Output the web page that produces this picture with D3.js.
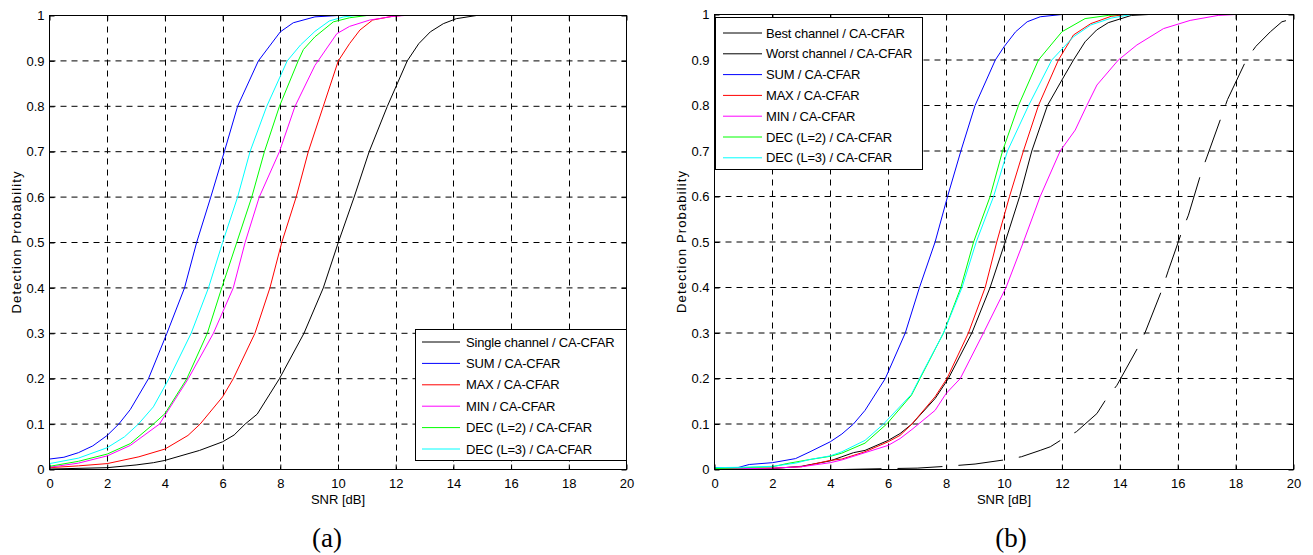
<!DOCTYPE html>
<html>
<head>
<meta charset="utf-8">
<script src="https://cdn.jsdelivr.net/npm/d3@7"></script>
<style>
  body { margin: 0; background: #fff; }
  svg { display: block; }
  text { font-family: "Liberation Sans", Arial, Helvetica, sans-serif; fill: #000; }
</style>
</head>
<body>
<svg id="chart" width="1313" height="555"></svg>
<script>
// ---- axis ticks ----
const snrTicks = [0, 2, 4, 6, 8, 10, 12, 14, 16, 18, 20];
const pdTicks = [0, 0.1, 0.2, 0.3, 0.4, 0.5, 0.6, 0.7, 0.8, 0.9, 1];

// ---- panel (a): [SNR dB, detection probability] ----
const singleA = [[0,0.001],[2,0.004],[3,0.01],[3.6,0.015],[4,0.02],[5.2,0.042],[6,0.061],[6.4,0.076],[6.78,0.1],[7.2,0.122],[7.97,0.2],[8.82,0.3],[9.49,0.4],[10.01,0.5],[10.56,0.6],[11.08,0.7],[11.71,0.8],[12.4,0.9],[12.8,0.938],[13.2,0.964],[13.65,0.982],[14.1,0.993],[14.8,1],[20,1]];
const sumA = [[0,0.023],[0.5,0.027],[1,0.037],[1.5,0.052],[2,0.075],[2.4,0.1],[2.8,0.132],[3.43,0.2],[4.07,0.3],[4.68,0.4],[5.1,0.5],[5.59,0.6],[6.06,0.7],[6.52,0.8],[7.24,0.9],[8,0.964],[8.45,0.984],[9.2,0.997],[10,1],[20,1]];
const maxA = [[0,0.004],[1,0.008],[2,0.013],[3.1,0.028],[4,0.045],[4.8,0.075],[5.22,0.1],[6,0.16],[6.37,0.2],[7.12,0.3],[7.64,0.4],[8.05,0.5],[8.55,0.6],[8.97,0.7],[9.49,0.8],[10.01,0.9],[10.4,0.938],[10.76,0.968],[11.2,0.99],[11.86,0.998],[12.2,1],[20,1]];
const minA = [[0,0.005],[1,0.014],[2,0.03],[2.8,0.053],[3.81,0.1],[4.81,0.2],[5.68,0.3],[6.37,0.4],[6.78,0.5],[7.27,0.6],[7.97,0.7],[8.51,0.8],[9.2,0.89],[9.96,0.96],[10.4,0.976],[11.1,0.99],[11.9,0.998],[12.3,1],[20,1]];
const dec2A = [[0,0.007],[1,0.018],[2,0.034],[2.8,0.057],[3.6,0.1],[4,0.123],[4.76,0.2],[5.47,0.3],[5.97,0.4],[6.49,0.5],[7.01,0.6],[7.45,0.7],[7.97,0.8],[8.62,0.9],[8.8,0.925],[9.2,0.953],[9.84,0.986],[10.4,0.995],[11,1],[20,1]];
const dec3A = [[0,0.013],[1,0.025],[2,0.048],[2.6,0.072],[3.08,0.1],[3.6,0.138],[4.14,0.2],[4.91,0.3],[5.51,0.4],[6,0.5],[6.52,0.6],[6.95,0.7],[7.53,0.8],[8.24,0.9],[8.7,0.935],[9.2,0.965],[9.7,0.988],[10.2,0.997],[10.6,1],[20,1]];

// ---- panel (b) ----
const bestB = [[0,0],[2,0.002],[3,0.007],[4,0.019],[4.4,0.028],[4.8,0.037],[5.2,0.042],[6,0.064],[6.41,0.079],[6.82,0.1],[7.62,0.156],[8.08,0.2],[8.89,0.3],[9.52,0.4],[10.04,0.5],[10.54,0.6],[10.96,0.7],[11.5,0.8],[12,0.856],[12.4,0.9],[12.8,0.94],[13.2,0.966],[13.6,0.982],[14,0.99],[14.4,0.998],[15,1],[20,1]];
const worstB = [[0,0],[4.4,0],[6,0.002],[7,0.003],[8,0.007],[9,0.012],[10,0.021],[10.6,0.028],[11.25,0.042],[11.6,0.05],[12,0.066],[12.5,0.083],[13.21,0.123],[13.55,0.157],[13.9,0.185],[14.65,0.271],[14.88,0.302],[15.45,0.394],[15.68,0.438],[16.14,0.522],[16.37,0.559],[16.81,0.652],[17.01,0.687],[17.53,0.779],[17.72,0.813],[18.39,0.903],[18.7,0.93],[19.2,0.962],[19.6,0.984],[20,0.991]];
const sumB = [[0,0.004],[0.8,0.004],[1.2,0.011],[2,0.015],[2.8,0.024],[3.3,0.039],[4,0.061],[4.4,0.078],[4.8,0.1],[5.2,0.13],[5.9,0.2],[6.59,0.3],[7.08,0.4],[7.62,0.5],[8.05,0.6],[8.51,0.7],[9,0.8],[9.7,0.9],[10,0.929],[10.4,0.962],[10.8,0.984],[11.25,0.995],[12,1],[20,1]];
const maxB = [[0,0.001],[2,0.003],[3,0.006],[4,0.02],[4.4,0.023],[5.2,0.039],[6,0.061],[6.41,0.075],[6.82,0.1],[7.62,0.16],[8.03,0.2],[8.77,0.3],[9.35,0.4],[9.75,0.5],[10.19,0.6],[10.67,0.7],[11.19,0.8],[11.88,0.9],[12.4,0.955],[13,0.98],[13.7,0.996],[14.2,1],[20,1]];
const minB = [[0,0.001],[2,0.003],[3,0.006],[4,0.015],[4.4,0.021],[5.2,0.037],[6,0.053],[6.41,0.068],[6.82,0.088],[7.05,0.1],[7.62,0.13],[8,0.167],[8.49,0.2],[9.29,0.3],[10.07,0.4],[10.67,0.5],[11.25,0.6],[11.94,0.7],[12.46,0.746],[12.86,0.8],[13.21,0.845],[13.95,0.9],[14.59,0.933],[15.51,0.969],[16.43,0.987],[17.4,0.998],[18,1],[20,1]];
const dec2B = [[0,0.002],[1,0.004],[2,0.006],[2.5,0.013],[3.3,0.022],[4,0.029],[4.4,0.036],[5.2,0.058],[5.95,0.1],[6.8,0.163],[7.1,0.2],[7.91,0.3],[8.51,0.4],[8.95,0.5],[9.52,0.6],[9.95,0.7],[10.5,0.8],[11.19,0.9],[12,0.962],[12.8,0.991],[13.6,0.998],[14,1],[20,1]];
const dec3B = [[0,0.004],[1,0.005],[2,0.007],[2.8,0.014],[3.3,0.022],[4,0.03],[4.4,0.039],[5.2,0.064],[5.84,0.1],[6.8,0.165],[7.08,0.2],[7.91,0.3],[8.55,0.4],[9.04,0.5],[9.64,0.6],[10.12,0.7],[10.85,0.8],[11.65,0.9],[12.4,0.951],[13,0.977],[13.7,0.992],[14.4,1],[20,1]];

// ---- series labels ----
const namesA = ["Single channel / CA-CFAR", "SUM / CA-CFAR", "MAX / CA-CFAR", "MIN / CA-CFAR", "DEC (L=2) / CA-CFAR", "DEC (L=3) / CA-CFAR"];
const namesB = ["Best channel / CA-CFAR", "Worst channel / CA-CFAR", "SUM / CA-CFAR", "MAX / CA-CFAR", "MIN / CA-CFAR", "DEC (L=2) / CA-CFAR", "DEC (L=3) / CA-CFAR"];

const svg = d3.select("#chart");

function drawPanel(p) {
  const x = d3.scaleLinear().domain([0, 20]).range([p.left, p.right]);
  const y = d3.scaleLinear().domain([0, 1]).range([p.bottom, p.top]);
  const g = svg.append("g");

  // dashed grid
  g.append("g").selectAll("line").data(snrTicks.slice(1, -1)).join("line")
    .attr("x1", d => Math.round(x(d)) + 0.5).attr("x2", d => Math.round(x(d)) + 0.5)
    .attr("y1", p.top).attr("y2", p.bottom)
    .attr("stroke", "#000").attr("stroke-width", 1).attr("stroke-dasharray", "6,5");
  g.append("g").selectAll("line").data(pdTicks.slice(1, -1)).join("line")
    .attr("y1", d => y(d)).attr("y2", d => y(d))
    .attr("x1", p.left).attr("x2", p.right)
    .attr("stroke", "#000").attr("stroke-width", 1).attr("stroke-dasharray", "6,5");

  // curves
  const line = d3.line().x(d => x(d[0])).y(d => y(d[1]));
  g.append("g").selectAll("path").data(p.series).join("path")
    .attr("d", s => line(s.data))
    .attr("fill", "none")
    .attr("stroke", s => s.color)
    .attr("stroke-width", 1)
    .attr("stroke-dasharray", s => s.dash || null);

  // axes with inward ticks
  const fmtY = d => (d === 0 || d === 1) ? String(d) : d.toFixed(1);
  const ax = (gen, tx, ty) => {
    const a = g.append("g").attr("transform", `translate(${tx},${ty})`).call(gen);
    a.select(".domain").remove();
    a.selectAll("line").attr("stroke", "#000");
    a.selectAll("text").attr("font-size", 13).attr("font-family", null);
    return a;
  };
  ax(d3.axisBottom(x).tickValues(snrTicks).tickFormat(d3.format("d")).tickSizeInner(-5).tickSizeOuter(0).tickPadding(9), 0, p.bottom);
  ax(d3.axisTop(x).tickValues(snrTicks).tickFormat("").tickSizeInner(-5).tickSizeOuter(0), 0, p.top);
  ax(d3.axisLeft(y).tickValues(pdTicks).tickFormat(fmtY).tickSizeInner(-5).tickSizeOuter(0).tickPadding(5), p.left, 0);
  ax(d3.axisRight(y).tickValues(pdTicks).tickFormat("").tickSizeInner(-5).tickSizeOuter(0), p.right, 0);

  // frame
  g.append("rect").attr("x", p.left).attr("y", p.top)
    .attr("width", p.right - p.left).attr("height", p.bottom - p.top)
    .attr("fill", "none").attr("stroke", "#000").attr("stroke-width", 1);

  // axis titles
  g.append("text").attr("x", (p.left + p.right) / 2).attr("y", p.bottom + 34)
    .attr("text-anchor", "middle").attr("font-size", 13).text("SNR [dB]");
  g.append("text")
    .attr("transform", `translate(${p.left - 33},${(p.top + p.bottom) / 2}) rotate(-90)`)
    .attr("text-anchor", "middle").attr("dy", "0.35em").attr("font-size", 13)
    .attr("textLength", 142).attr("lengthAdjust", "spacing")
    .text("Detection Probability");
  g.append("text").attr("x", p.captionX).attr("y", 547)
    .attr("text-anchor", "middle").attr("font-size", 27)
    .style("font-family", "'Liberation Serif','Times New Roman',serif")
    .text(p.caption);

  // legend
  const L = p.legend;
  const lg = g.append("g");
  lg.append("rect").attr("x", L.x).attr("y", L.y).attr("width", L.w).attr("height", L.h)
    .attr("fill", "#fff").attr("stroke", "#000").attr("stroke-width", 1);
  const rows = lg.selectAll("g.row").data(p.series).join("g").attr("class", "row")
    .attr("transform", (s, i) => `translate(0,${L.row0 + i * L.step})`);
  rows.append("line").attr("x1", L.lineX0).attr("x2", L.lineX1).attr("y1", 0).attr("y2", 0)
    .attr("stroke", s => s.color).attr("stroke-width", 1);
  rows.append("text").attr("x", L.textX).attr("y", 0).attr("dy", "0.35em")
    .attr("font-size", 13).attr("letter-spacing", "-0.2").text(s => s.name);
}

const colorsA = ["#000000", "#0000ff", "#ff0000", "#ff00ff", "#00ff00", "#00ffff"];
const dataA = [singleA, sumA, maxA, minA, dec2A, dec3A];
const colorsB = ["#000000", "#000000", "#0000ff", "#ff0000", "#ff00ff", "#00ff00", "#00ffff"];
const dataB = [bestB, worstB, sumB, maxB, minB, dec2B, dec3B];

drawPanel({
  left: 49.5, right: 626.5, top: 15.5, bottom: 469.5,
  caption: "(a)", captionX: 327,
  series: namesA.map((n, i) => ({ name: n, color: colorsA[i], data: dataA[i] })),
  legend: { x: 415.5, y: 329.5, w: 211, h: 131, lineX0: 422, lineX1: 460, textX: 466, row0: 342, step: 21.4 }
});

drawPanel({
  left: 714.5, right: 1293.5, top: 14.5, bottom: 469.5,
  caption: "(b)", captionX: 1011,
  series: namesB.map((n, i) => ({ name: n, color: colorsB[i], data: dataB[i], dash: i === 1 ? "45,16" : null })),
  legend: { x: 715.5, y: 17.5, w: 207, h: 152, lineX0: 723, lineX1: 762, textX: 766, row0: 33, step: 20.8 }
});
</script>
</body>
</html>
